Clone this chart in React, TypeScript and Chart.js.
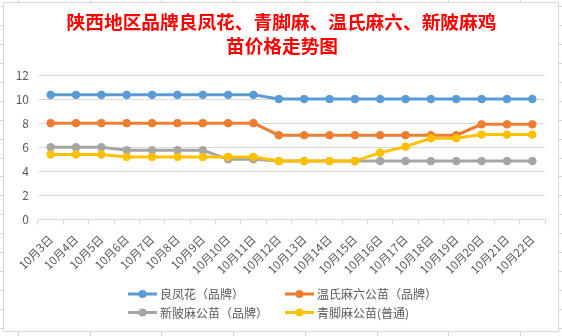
import React, { useEffect, useRef } from "react";
import { Chart, registerables } from "chart.js";

Chart.register(...registerables);

const titleLines = ["陕西地区品牌良凤花、青脚麻、温氏麻六、新陂麻鸡", "苗价格走势图"];

const categories = [
  "10月3日", "10月4日", "10月5日", "10月6日", "10月7日", "10月8日", "10月9日",
  "10月10日", "10月11日", "10月12日", "10月13日", "10月14日", "10月15日", "10月16日",
  "10月17日", "10月18日", "10月19日", "10月20日", "10月21日", "10月22日",
];

const liangfenghua = [10.35, 10.35, 10.35, 10.35, 10.35, 10.35, 10.35, 10.35, 10.35, 10.0, 10.0, 10.0, 10.0, 10.0, 10.0, 10.0, 10.0, 10.0, 10.0, 10.0];
const wenshi = [8, 8, 8, 8, 8, 8, 8, 8, 8, 7, 7, 7, 7, 7, 7, 7, 7, 7.9, 7.9, 7.9];
const xinpo = [6, 6, 6, 5.75, 5.75, 5.75, 5.75, 5.0, 5.0, 4.85, 4.85, 4.85, 4.85, 4.85, 4.85, 4.85, 4.85, 4.85, 4.85, 4.85];
const qingjiao = [5.4, 5.4, 5.4, 5.2, 5.2, 5.2, 5.2, 5.2, 5.2, 4.85, 4.85, 4.85, 4.85, 5.55, 6.05, 6.75, 6.75, 7.05, 7.05, 7.05];

const seriesNames = ["良凤花（品牌）", "温氏麻六公苗（品牌）", "新陂麻公苗（品牌）", "青脚麻公苗(普通)"];
const seriesColors = ["#5B9BD5", "#ED7D31", "#A5A5A5", "#FFC000"];

const yTicks = { min: 0, max: 12, step: 2 };

const FONT = '"Noto Sans CJK SC", "Noto Sans", sans-serif';

export default function App() {
  const ref = useRef<HTMLCanvasElement | null>(null);

  useEffect(() => {
    if (!ref.current) return;
    const values = [liangfenghua, wenshi, xinpo, qingjiao];

    const decorPlugin = {
      id: "decor",
      beforeDraw(chart: any) {
        const ctx = chart.ctx;
        ctx.save();
        ctx.fillStyle = "#FFFFFF";
        ctx.fillRect(0, 0, chart.width, chart.height);
        ctx.strokeStyle = "#D4D4D4";
        ctx.lineWidth = 1;
        ctx.beginPath();
        for (let x = 18; x < 562; x += 71.7) {
          const px = Math.round(x) + 0.5;
          ctx.moveTo(px, 0);
          ctx.lineTo(px, 2);
          ctx.moveTo(px, 332);
          ctx.lineTo(px, 336);
        }
        for (let y = 6.1; y < 336; y += 18.93) {
          const py = Math.round(y) + 0.5;
          ctx.moveTo(0, py);
          ctx.lineTo(3, py);
          ctx.moveTo(559, py);
          ctx.lineTo(562, py);
        }
        ctx.stroke();
        ctx.strokeStyle = "#D9D9D9";
        ctx.strokeRect(3.5, 2.5, 555, 329);
        ctx.restore();
      },
      afterDraw(chart: any) {
        const ctx = chart.ctx;
        ctx.save();
        ctx.fillStyle = "#FF0000";
        ctx.font = "bold 18.7px " + FONT;
        ctx.textAlign = "center";
        ctx.textBaseline = "middle";
        ctx.fillText(titleLines[0], 281.5, 22);
        ctx.fillText(titleLines[1], 282, 45.5);
        const cols = [128, 285];
        const rows = [294, 312.5];
        ctx.font = "12px " + FONT;
        ctx.textAlign = "left";
        for (let i = 0; i < seriesNames.length; i++) {
          const x = cols[i % 2];
          const y = rows[Math.floor(i / 2)];
          ctx.strokeStyle = seriesColors[i];
          ctx.lineWidth = 3;
          ctx.beginPath();
          ctx.moveTo(x, y);
          ctx.lineTo(x + 29, y);
          ctx.stroke();
          ctx.fillStyle = seriesColors[i];
          ctx.beginPath();
          ctx.arc(x + 14.5, y, 4, 0, Math.PI * 2);
          ctx.fill();
          ctx.fillStyle = "#595959";
          ctx.fillText(seriesNames[i], x + 32, y + 0.5);
        }
        ctx.restore();
      },
    };

    const chart = new Chart(ref.current, {
      type: "line",
      data: {
        labels: categories,
        datasets: seriesNames.map((name, i) => ({
          label: name,
          data: values[i],
          borderColor: seriesColors[i],
          backgroundColor: seriesColors[i],
          pointBackgroundColor: seriesColors[i],
          pointBorderColor: seriesColors[i],
          borderWidth: 3,
          pointRadius: 3.8,
          pointBorderWidth: 1,
          tension: 0,
          fill: false,
          order: seriesNames.length - 1 - i,
        })),
      },
      options: {
        responsive: false,
        animation: false,
        devicePixelRatio: 1,
        layout: { padding: { top: 75, left: 0, right: 17, bottom: 56.5 } },
        plugins: {
          legend: { display: false },
          title: { display: false },
          tooltip: { enabled: false },
        },
        scales: {
          x: {
            offset: true,
            grid: {
              offset: true,
              drawOnChartArea: false,
              drawTicks: true,
              tickLength: 5,
              color: "#D9D9D9",
            },
            border: { display: true, color: "#D9D9D9" },
            ticks: {
              autoSkip: false,
              maxRotation: 45,
              minRotation: 45,
              padding: 8,
              color: "#595959",
              font: { family: FONT, size: 11.5 },
            },
            afterFit: (s: any) => {
              s.height = 60;
            },
          },
          y: {
            min: yTicks.min,
            max: yTicks.max,
            grid: { color: "#D9D9D9", drawTicks: false },
            border: { display: false },
            ticks: {
              stepSize: yTicks.step,
              padding: 9,
              color: "#595959",
              font: { family: FONT, size: 12 },
            },
            afterFit: (s: any) => {
              s.width = 38;
            },
          },
        },
      },
      plugins: [decorPlugin],
    });
    return () => chart.destroy();
  }, []);

  return (
    <div style={{ position: "absolute", left: 0, top: 0, width: 562, height: 336, background: "#fff" }}>
      <canvas ref={ref} width={562} height={336} style={{ width: 562, height: 336, display: "block" }} />
    </div>
  );
}
